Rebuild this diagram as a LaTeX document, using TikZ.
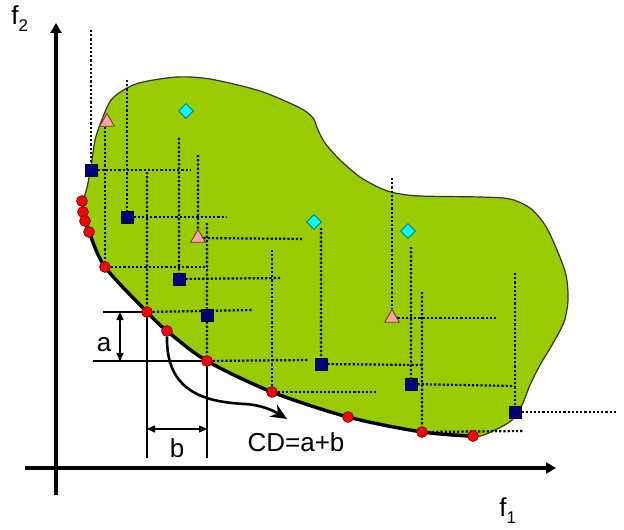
\documentclass[tikz,border=0pt]{standalone}
\usepackage{fontspec}
\setmainfont{Liberation Sans}
\usetikzlibrary{arrows.meta,shapes.geometric,backgrounds}
\definecolor{leaf}{RGB}{153,204,0}
\definecolor{navy}{RGB}{0,0,128}
\definecolor{rose}{RGB}{238,168,168}
\definecolor{aqua}{RGB}{0,255,255}
\tikzset{
	sq/.style={draw=black,fill=navy,minimum size=6pt,inner sep=0pt},
	tri/.style={draw={rgb,255:red,110;green,50;blue,40},fill=rose,regular polygon,regular polygon sides=3,minimum size=8.5pt,inner sep=0pt},
	dia/.style={draw={rgb,255:red,0;green,110;blue,110},fill=aqua,diamond,minimum size=7.5pt,inner sep=0pt},
	dot/.style={draw={rgb,255:red,120;green,0;blue,0},fill=red,circle,minimum size=5.4pt,inner sep=0pt},
	dotln/.style={line width=1.1pt,dash pattern=on 1.1pt off 1pt},
	dimln/.style={line width=0.7pt},
	dimarr/.style={line width=0.7pt,{Triangle[length=4pt,width=3.5pt]}-{Triangle[length=4pt,width=3.5pt]}},
	axis/.style={line width=2pt,-{Triangle[length=5pt,width=5.5pt]}}
}
\newcommand{\sub}[1]{\raisebox{-3.5pt}{\fontsize{8.5}{9}\selectfont #1}}

\begin{document}
\begin{tikzpicture}[x=0.5pt,y=-0.5pt,font=\fontsize{13}{15}\selectfont]
\useasboundingbox (0,0) rectangle (624,529);
% solutions
\node[sq] (s1) at (91,170) {};
\node[sq] (s2) at (127,217) {};
\node[sq] (s3) at (179,279) {};
\node[sq] (s4) at (207,315) {};
\node[sq] (s5) at (321,364) {};
\node[sq] (s6) at (411,384) {};
\node[sq] (s7) at (515,412) {};
\node[tri] (t1) at (107,122) {};
\node[tri] (t2) at (198,238) {};
\node[tri] (t3) at (392,318) {};
\node[dia] (d1) at (186,111) {};
\node[dia] (d2) at (314,222) {};
\node[dia] (d3) at (408,231) {};
\node[dot] (c1) at (82,201) {};
\node[dot] (c2) at (83,212) {};
\node[dot] (c3) at (85,221) {};
\node[dot] (c4) at (89,232) {};
\node[dot] (c5) at (105,267) {};
\node[dot] (c6) at (147,312) {};
\node[dot] (c7) at (167,331) {};
\node[dot] (c8) at (207,361) {};
\node[dot] (c9) at (272,392) {};
\node[dot] (c10) at (348,417) {};
\node[dot] (c11) at (422,432) {};
\node[dot] (c12) at (473,436) {};
% labels
\node[anchor=base west,inner sep=0pt] (f2) at (11,25) {f\sub{2}};
\node[anchor=base west,inner sep=0pt] (f1) at (499,516) {f\sub{1}};
\node (alab) at (104,345) {a};
\node (blab) at (177,448) {b};
\node (cd) at (296,442) {CD=a+b};
\coordinate (ytop) at (56,23);
\coordinate (ybot) at (56,495);
\coordinate (xlft) at (25,468);
\coordinate (xrgt) at (556,468);
\coordinate (ax) at (120,0);
\coordinate (by) at (0,429);

\begin{scope}[on background layer]
\draw[draw=black!80,line width=0.6pt,fill=leaf] plot[smooth cycle,tension=0.5] coordinates {
	(111,100) (127,88) (143,82) (177,77) (210,79) (260,91) (300,108) (313,118) (318,130)
	(325,143) (340,160) (360,177) (380,188) (395,193) (420,196) (480,197) (510,199)
	(530,208) (545,225) (557,250) (566,275) (568,300) (564,322) (552,345) (540,365)
	(530,385) (522,405) (512,420) (495,430) (473,437) (422,432) (348,417) (272,393)
	(208,362) (167,331) (147,313) (106,268) (89,232) (84,214) (84,200) (88,183)
	(92,160) (95,140) (101,122)};
% dominated regions
\draw[dotln] (91,30) -- (s1) -- (191,170);
\draw[dotln] (127,80) -- (s2) -- (227,217);
\draw[dotln] (t1.south -| c5) -- (c5) -- (208,267);
\draw[dotln] (147,172) -- (c6) -- (253,310);
\draw[dotln] (179,138) -- (s3) -- (281,278);
\draw[dotln] (198,155) -- (t2) -- (304,239);
\draw[dotln] (207,223) -- (s4) -- (c8) -- (308,360);
\draw[dotln] (272,250) -- (c9) -- (376,392);
\draw[dotln] (321,228) -- (s5) -- (422,365);
\draw[dotln] (392,178) -- (t3) -- (497,318);
\draw[dotln] (411,247) -- (s6) -- (514,386);
\draw[dotln] (422,292) -- (c11) -- (523,431);
\draw[dotln] (515,273) -- (s7) -- (617,412);
% front
\draw[line width=1.7pt] plot[smooth,tension=0.5] coordinates {(c3.center) (c4.center)
	(c5.center) (c6.center) (c7.center) (c8.center) (c9.center) (c10.center)
	(c11.center) (c12.center)};
% crowding distance
\draw[dimln] (103,312) -- (c6.center) -- (147,458);
\draw[dimln] (93,361) -- (c8.center) -- (207,458);
\draw[dimarr] (ax |- c6) -- (ax |- c8);
\draw[dimarr] (c6 |- by) -- (c8 |- by);
\draw[line width=1.3pt,-{Stealth[length=8pt,width=7pt]}] (c7.south) .. controls (166,392) and (205,402) .. (245,404)
	.. controls (262,405) and (274,411) .. (287,419);
% axes
\draw[axis] (ybot) -- (ytop);
\draw[axis] (xlft) -- (xrgt);
\end{scope}
\end{tikzpicture}
\end{document}
